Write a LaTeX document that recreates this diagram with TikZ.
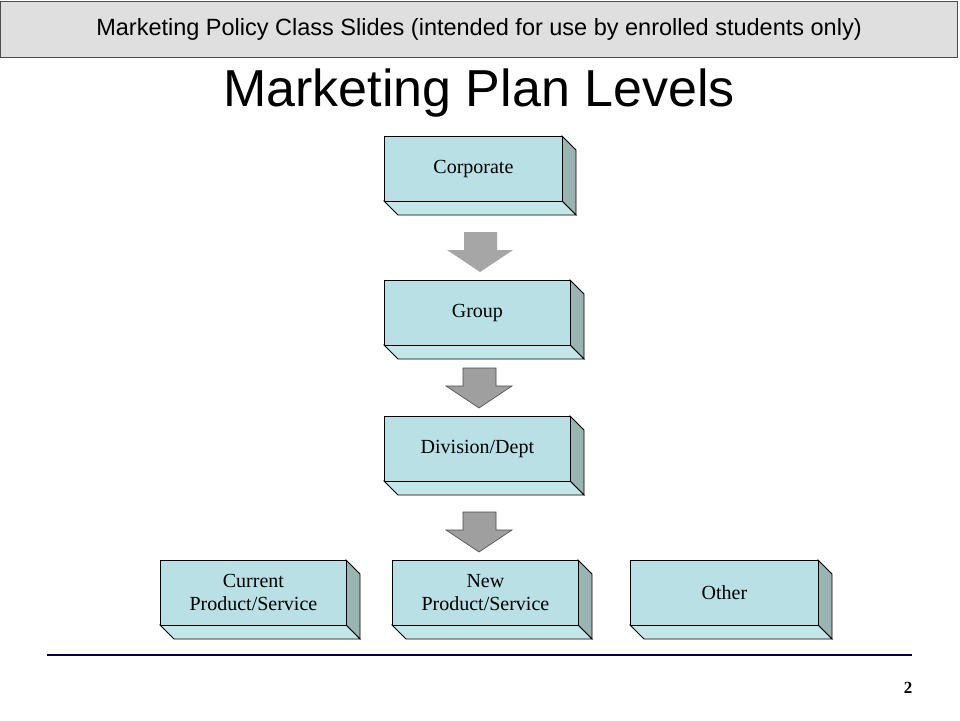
\documentclass[tikz,border=0pt]{standalone}
\usepackage{fontspec}
\setmainfont{Liberation Serif}
\newfontfamily\arial{Liberation Sans}
\definecolor{frontc}{HTML}{B9E0E4}
\definecolor{sidec}{HTML}{9AB3B3}
\definecolor{botc}{HTML}{C5E6E8}
\begin{document}
\begin{tikzpicture}[x=1pt,y=-1pt,
  face/.style={fill=frontc,draw=black,line width=0.8pt},
  boxtext/.style={font=\fontsize{20}{23}\selectfont,align=center},
  arr/.style={fill=gray!75,draw=black!70,line width=0.6pt}]
\useasboundingbox (0,0) rectangle (960,720);
\fill[white] (0,0) rectangle (960,720);
\node[draw=black!70,fill=gray!25,minimum width=957,minimum height=56,inner sep=0,font=\arial\fontsize{23.5}{26}\selectfont] (banner) at (479,29) {Marketing Policy Class Slides (intended for use by enrolled students only)};
\node[font=\arial\fontsize{52}{56}\selectfont] (title) at (479,93) {Marketing Plan Levels};
\newcommand\slab[7]{% name x1 y1 x2 y2 depth text
  \fill[fill=sidec,draw=black,line width=0.8pt] (#4,#3)--(#4+#6,#3+#6)--(#4+#6,#5+#6)--(#4,#5)--cycle;
  \fill[fill=botc,draw=black,line width=0.8pt] (#2,#5)--(#4,#5)--(#4+#6,#5+#6)--(#2+#6,#5+#6)--cycle;
  \node[face,boxtext,minimum width=#4-#2,minimum height=#5-#3,inner sep=0,anchor=north west] (#1) at (#2,#3) {#7};}
\slab{corp}{384}{136}{562}{201}{14}{Corporate}
\slab{group}{384}{280}{570}{345}{14}{Group}
\slab{div}{384}{416}{570}{481}{14}{Division/Dept}
\slab{cur}{160}{560}{346}{625}{14}{Current\\Product/Service}
\slab{new}{392}{560}{578}{625}{14}{New\\Product/Service}
\slab{oth}{630}{560}{818}{625}{14}{Other}
\fill[gray!70] (464,232)--(497,232)--(497,250)--(513,250)--(480,272)--(447,250)--(464,250)--cycle;
\draw[arr] (463,368)--(496,368)--(496,386)--(512,386)--(479,408)--(446,386)--(463,386)--cycle;
\draw[arr] (463,512)--(496,512)--(496,530)--(512,530)--(479,552)--(446,530)--(463,530)--cycle;
\coordinate (l1) at (47,655); \coordinate (l2) at (912,655);
\draw[blue!30!black,line width=1.2pt] (l1)--(l2);
\node[font=\bfseries\fontsize{17}{19}\selectfont] (pg) at (908,688) {2};
\end{tikzpicture}
\end{document}
